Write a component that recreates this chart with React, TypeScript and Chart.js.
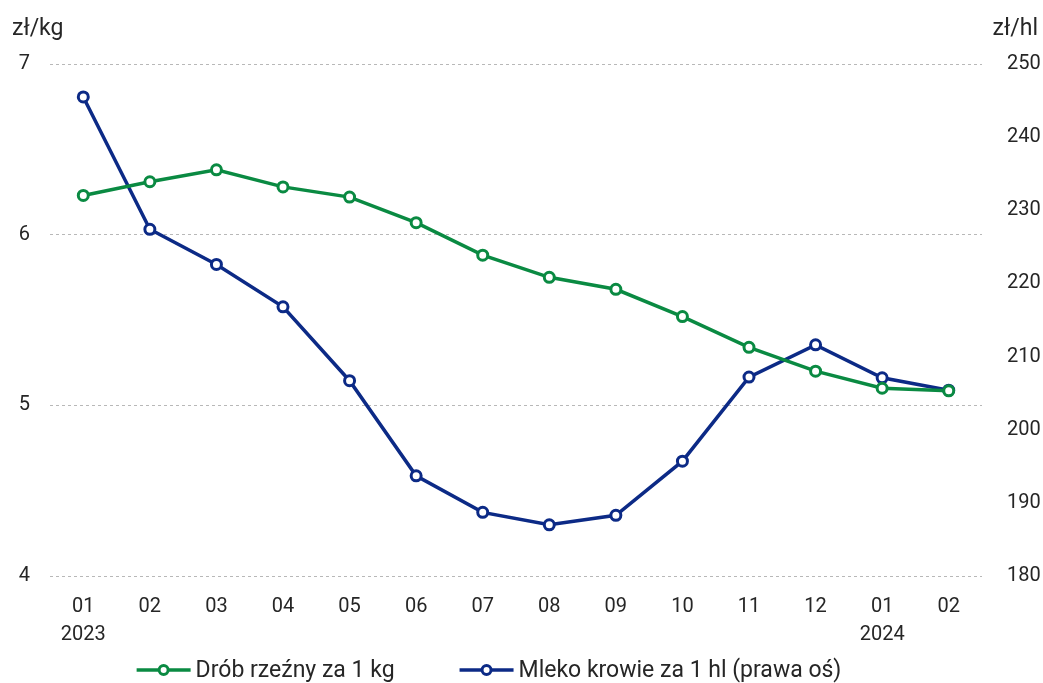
import React, { useEffect, useRef } from "react";
import { Chart, registerables } from "chart.js";
Chart.register(...registerables);

const FONT = "Roboto";
const TEXT = "#262626";
const GREEN = "#0a8a42";
const BLUE = "#0c2a86";

const months: (string | string[])[] = [
  ["01", "2023"], "02", "03", "04", "05", "06", "07", "08", "09", "10", "11", "12", ["01", "2024"], "02",
];
const drob = [6.23, 6.31, 6.38, 6.28, 6.22, 6.07, 5.88, 5.75, 5.68, 5.52, 5.34, 5.2, 5.1, 5.085];
const mleko = [245.5, 227.4, 222.6, 216.8, 206.7, 193.7, 188.7, 187.0, 188.3, 195.7, 207.2, 211.6, 207.1, 205.4];
const leftTitle = "zł/kg";
const rightTitle = "zł/hl";
const drobLabel = "Drób rzeźny za 1 kg";
const mlekoLabel = "Mleko krowie za 1 hl (prawa oś)";

const overlay = {
  id: "overlay",
  afterDraw(chart: any) {
    const ctx = chart.ctx as CanvasRenderingContext2D;
    ctx.save();
    ctx.font = `23px ${FONT}`;
    ctx.fillStyle = TEXT;
    ctx.textBaseline = "alphabetic";
    ctx.textAlign = "left";
    ctx.fillText(leftTitle, 12, 35);
    ctx.textAlign = "right";
    ctx.fillText(rightTitle, 1038, 35);

    // legend
    const ds = chart.data.datasets;
    const lineW = 54;
    const gapText = 5;
    const gapItem = 65;
    ctx.textBaseline = "middle";
    const widths = ds.map((d: any) => lineW + gapText + ctx.measureText(d.label).width);
    const total = widths.reduce((a: number, b: number) => a + b, 0) + gapItem * (ds.length - 1);
    let x = 489 - total / 2;
    const y = 670;
    ctx.textAlign = "left";
    ds.forEach((d: any, i: number) => {
      ctx.strokeStyle = d.borderColor;
      ctx.lineWidth = 3.5;
      ctx.beginPath();
      ctx.moveTo(x, y);
      ctx.lineTo(x + lineW, y);
      ctx.stroke();
      ctx.beginPath();
      ctx.fillStyle = "#fff";
      ctx.lineWidth = 3;
      ctx.arc(x + lineW / 2, y, 4.5, 0, Math.PI * 2);
      ctx.fill();
      ctx.stroke();
      ctx.fillStyle = TEXT;
      ctx.fillText(d.label, x + lineW + gapText, y + 1);
      x += widths[i] + gapItem;
    });
    ctx.restore();
  },
};

export default function App() {
  const ref = useRef<HTMLCanvasElement>(null);
  useEffect(() => {
    if (!ref.current) return;
    const chart = new Chart(ref.current, {
      type: "line",
      data: {
        labels: months as any,
        datasets: [
          {
            label: drobLabel,
            data: drob,
            yAxisID: "y",
            borderColor: GREEN,
            backgroundColor: "#fff",
            borderWidth: 3.5,
            pointRadius: 5,
            pointBorderWidth: 3,
            pointBackgroundColor: "#fff",
            pointBorderColor: GREEN,
            tension: 0,
          },
          {
            label: mlekoLabel,
            data: mleko,
            yAxisID: "y1",
            borderColor: BLUE,
            backgroundColor: "#fff",
            borderWidth: 3.5,
            pointRadius: 5,
            pointBorderWidth: 3,
            pointBackgroundColor: "#fff",
            pointBorderColor: BLUE,
            tension: 0,
          },
        ],
      },
      options: {
        animation: false,
        responsive: true,
        maintainAspectRatio: false,
        layout: { padding: { top: 64, left: 0, right: 0, bottom: 0 } },
        plugins: { legend: { display: false }, tooltip: { enabled: false } },
        scales: {
          x: {
            offset: true,
            grid: { display: false, drawTicks: false },
            border: { display: false },
            ticks: {
              color: TEXT,
              font: { family: FONT, size: 20, lineHeight: 1.4 },
              padding: 17,
              maxRotation: 0,
              autoSkip: false,
            },
            afterFit(scale: any) {
              scale.height = 107;
            },
          },
          y: {
            position: "left",
            min: 4,
            max: 7,
            ticks: {
              stepSize: 1,
              color: TEXT,
              font: { family: FONT, size: 20 },
              padding: 20,
            },
            grid: { color: "#b8b8b8", lineWidth: 1, drawTicks: false },
            border: { display: false, dash: [3, 3] },
            afterFit(scale: any) {
              scale.width = 50;
            },
          },
          y1: {
            position: "right",
            min: 180,
            max: 250,
            ticks: {
              stepSize: 10,
              color: TEXT,
              font: { family: FONT, size: 20 },
              padding: 25,
            },
            grid: { drawOnChartArea: false, drawTicks: false },
            border: { display: false },
            afterFit(scale: any) {
              scale.width = 61;
            },
          },
        },
      },
      plugins: [overlay],
    });
    return () => chart.destroy();
  }, []);
  return (
    <div style={{ position: "absolute", left: 0, top: 0, width: 1043, height: 683 }}>
      <canvas ref={ref} />
    </div>
  );
}
